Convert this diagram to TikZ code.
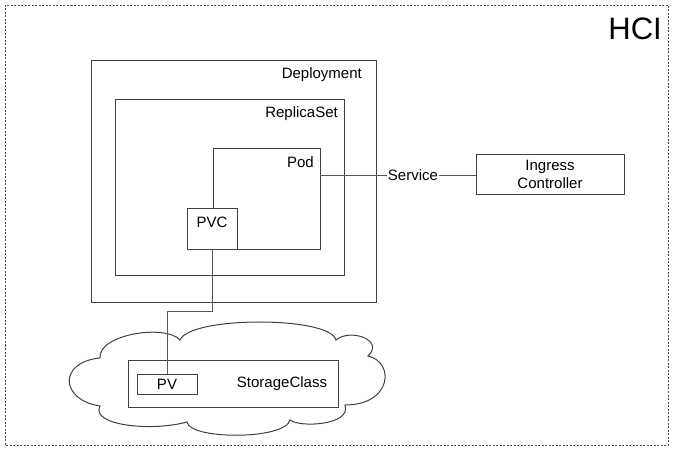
\documentclass[tikz,border=0pt]{standalone}
\usepackage{fontspec}
\setmainfont{Liberation Sans}
\begin{document}
\begin{tikzpicture}[x=1pt,y=-1pt,
  box/.style={draw=black!75,line width=0.9pt},
  lbl/.style={inner sep=0pt,font=\fontsize{15}{18}\selectfont},
  wire/.style={draw=black!65,line width=0.9pt}]
\useasboundingbox (0,0) rectangle (678,457);
% outer dashed frame
\draw[black!70,line width=0.8pt,dash pattern=on 2pt off 1.5pt] (5,5) rectangle (668,445);
\node[inner sep=0pt,anchor=north east,font=\fontsize{31}{34}\selectfont] (hci) at (662,18) {HCI};
% boxes
\draw[box] (91,60) rectangle (376,302);
\node[lbl,anchor=east] (dep) at (362,75) {Deployment};
\draw[box] (115,99) rectangle (344,275);
\node[lbl,anchor=east] (rs) at (338,114) {ReplicaSet};
\draw[box] (213,148) rectangle (320,249);
\node[lbl,anchor=east] (podl) at (314,162) {Pod};
\coordinate (podr) at (320,175);
\draw[box,fill=white] (187,208) rectangle (237,249);
\node[lbl] (pvc) at (212,222) {PVC};
\coordinate (pvcb) at (212,249);
% service and ingress
\node[lbl,fill=white,inner xsep=1pt] (svc) at (413,175) {Service};
\node[box,lbl,minimum width=148pt,minimum height=40pt,align=center] (ing) at (550,174) {Ingress\\Controller};
\draw[wire] (podr) -- (podr -| svc.west);
\draw[wire] (podr -| svc.east) -- (podr -| ing.west);
% cloud
\draw[box,line width=1pt] (100,358)
  .. controls (98,334) and (166,324) .. (180,340)
  .. controls (190,316) and (330,316) .. (336,340)
  .. controls (350,328) and (385,340) .. (368,356)
  .. controls (395,362) and (392,405) .. (345,405)
  .. controls (352,425) and (300,428) .. (290,420)
  .. controls (285,440) and (190,440) .. (187,422)
  .. controls (150,432) and (90,425) .. (100,406)
  .. controls (60,400) and (58,362) .. (100,358) -- cycle;
\draw[box] (128,360) rectangle (338,407);
\node[lbl] (sc) at (282,384) {StorageClass};
\node[box,lbl,minimum width=60pt,minimum height=20pt] (pv) at (167,384) {PV};
\draw[wire] (pvcb) -- (212,311) -- (167,311) -- (pv.north);
\end{tikzpicture}
\end{document}
